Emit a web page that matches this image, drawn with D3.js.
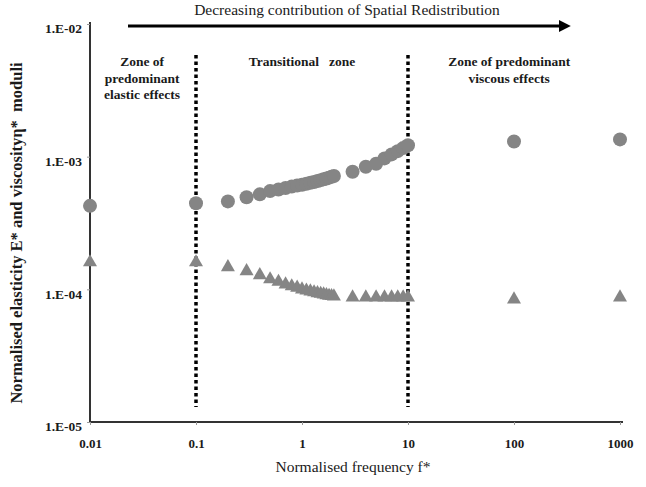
<!DOCTYPE html>
<html>
<head>
<meta charset="utf-8">
<script src="https://cdn.jsdelivr.net/npm/d3@7"></script>
<style>
  body { margin: 0; background: #fff; }
  text { font-family: "Liberation Serif", "Times New Roman", serif; fill: #1a1a1a; }
  .tick text { font-weight: bold; font-size: 13px; }
</style>
</head>
<body>
<svg id="chart" width="646" height="487"></svg>
<script>
// normalised frequency of every measured point
var freq = [0.01, 0.1, 0.2, 0.3, 0.4,
  0.5, 0.6, 0.7, 0.8, 0.9, 1.0, 1.1, 1.2, 1.3, 1.4, 1.5, 1.6, 1.7, 1.8, 1.9, 2.0,
  3, 4, 5, 6, 7, 8, 9, 10, 100, 1000];

// elasticity E* (circles)
var elasticity = [4.26e-4, 4.45e-4, 4.6e-4, 4.95e-4, 5.2e-4,
  5.5e-4, 5.65e-4, 5.8e-4, 5.95e-4, 6.05e-4, 6.15e-4, 6.25e-4, 6.35e-4, 6.45e-4, 6.55e-4,
  6.65e-4, 6.75e-4, 6.85e-4, 6.95e-4, 7.05e-4, 7.15e-4,
  7.7e-4, 8.4e-4, 8.85e-4, 9.7e-4, 1.04e-3, 1.1e-3, 1.16e-3, 1.22e-3, 1.3e-3, 1.35e-3];

// viscosity eta* (triangles)
var viscosity = [1.6e-4, 1.6e-4, 1.47e-4, 1.37e-4, 1.28e-4,
  1.19e-4, 1.14e-4, 1.09e-4, 1.055e-4, 1.03e-4, 1.0e-4, 0.98e-4, 0.965e-4, 0.95e-4, 0.935e-4,
  0.925e-4, 0.915e-4, 0.905e-4, 0.895e-4, 0.89e-4, 0.885e-4,
  0.87e-4, 0.87e-4, 0.87e-4, 0.87e-4, 0.87e-4, 0.87e-4, 0.87e-4, 0.87e-4, 0.84e-4, 0.87e-4];

var xTicks = [0.01, 0.1, 1, 10, 100, 1000];
var xTickLabels = ["0.01", "0.1", "1", "10", "100", "1000"];
var yTicks = [1e-5, 1e-4, 1e-3, 1e-2];
var yTickLabels = ["1.E-05", "1.E-04", "1.E-03", "1.E-02"];

// the dotted lines between the zones
var zoneBounds = [0.1, 10];
var zoneLabels = [
  {f: 0.031, lines: ["Zone of", "predominant", "elastic effects"]},
  {f: 1.0, lines: ["Transitional   zone"]},
  {f: 90, lines: ["Zone of predominant", "viscous effects"]}
];

// careful: "top" is taken by window.top, so prefix these
var svg = d3.select("#chart"),
    plotLeft = 90, plotRight = 620, plotTop = 24, plotBottom = 422;

var x = d3.scaleLog().domain([0.01, 1000]).range([plotLeft, plotRight]);
var y = d3.scaleLog().domain([1e-5, 1e-2]).range([plotBottom, plotTop]);

var points = freq.map(function(f, i) {
  return {f: f, e: elasticity[i], v: viscosity[i]};
});

// x axis
var xAxis = svg.append("g")
    .attr("transform", "translate(0," + plotBottom + ")")
    .call(d3.axisBottom(x).tickValues(xTicks).tickSize(3).tickPadding(14)
      .tickFormat(function(d, i) { return xTickLabels[i]; }));
xAxis.select(".domain").attr("d", "M" + plotLeft + ",0H" + (plotRight + 3))
    .attr("stroke", "#333").attr("stroke-width", 2);
xAxis.selectAll(".tick line").attr("stroke", "#999");
xAxis.selectAll(".tick text").attr("fill", "#1a1a1a");

// y axis
var yAxis = svg.append("g")
    .attr("transform", "translate(" + plotLeft + ",0)")
    .call(d3.axisLeft(y).tickValues(yTicks).tickSize(3).tickPadding(5)
      .tickFormat(function(d, i) { return yTickLabels[i]; }));
yAxis.select(".domain").attr("d", "M0," + plotBottom + "V" + (plotTop - 2))
    .attr("stroke", "#333").attr("stroke-width", 2);
yAxis.selectAll(".tick line").attr("stroke", "#999");
yAxis.selectAll(".tick text").attr("fill", "#1a1a1a").attr("dy", "0.65em")
    .style("font-size", "13.5px");

// dotted zone lines
svg.selectAll(".zone")
  .data(zoneBounds)
  .enter().append("line")
    .attr("class", "zone")
    .attr("x1", function(d) { return x(d); })
    .attr("x2", function(d) { return x(d); })
    .attr("y1", 55)
    .attr("y2", 407)
    .attr("stroke", "#000")
    .attr("stroke-width", 3.5)
    .attr("stroke-dasharray", "3.5,3");

// zone labels
svg.selectAll(".zonelabel")
  .data(zoneLabels)
  .enter().append("text")
    .attr("class", "zonelabel")
    .attr("text-anchor", "middle")
    .attr("font-size", "13.5px")
    .attr("font-weight", "bold")
    .style("white-space", "pre")
    .each(function(d) {
      var t = d3.select(this);
      d.lines.forEach(function(line, i) {
        t.append("tspan")
          .attr("x", x(d.f))
          .attr("y", 66 + i * 16.5)
          .text(line);
      });
    });

// circles
svg.selectAll(".dot")
  .data(points)
  .enter().append("circle")
    .attr("class", "dot")
    .attr("cx", function(d) { return x(d.f); })
    .attr("cy", function(d) { return y(d.e); })
    .attr("r", 7)
    .attr("fill", "#858585");

// triangles
svg.selectAll(".tri")
  .data(points)
  .enter().append("path")
    .attr("class", "tri")
    .attr("transform", function(d) { return "translate(" + x(d.f) + "," + y(d.v) + ")"; })
    .attr("d", d3.symbol().type(d3.symbolTriangle).size(85))
    .attr("fill", "#858585");

// arrow at the top
svg.append("defs").append("marker")
    .attr("id", "head")
    .attr("viewBox", "0 0 10 10")
    .attr("refX", 1).attr("refY", 5)
    .attr("markerWidth", 4).attr("markerHeight", 4)
    .attr("markerUnits", "strokeWidth")
    .attr("orient", "auto")
  .append("path")
    .attr("d", "M0,0L10,5L0,10z")
    .attr("fill", "#000");

svg.append("line")
    .attr("x1", 128).attr("x2", 560)
    .attr("y1", 26).attr("y2", 26)
    .attr("stroke", "#000")
    .attr("stroke-width", 3)
    .attr("marker-end", "url(#head)");

svg.append("text")
    .attr("x", 347).attr("y", 15)
    .attr("text-anchor", "middle")
    .attr("font-size", "15.5px")
    .text("Decreasing contribution of Spatial Redistribution");

// axis titles
svg.append("text")
    .attr("x", 353).attr("y", 472)
    .attr("text-anchor", "middle")
    .attr("font-size", "15.5px")
    .text("Normalised frequency f*");

svg.append("text")
    .attr("transform", "translate(22,233) rotate(-90)")
    .attr("text-anchor", "middle")
    .attr("font-size", "16.5px")
    .attr("font-weight", "bold")
    .style("white-space", "pre")
    .text("Normalised elasticity E* and viscosity\u03b7*  moduli");
</script>
</body>
</html>
